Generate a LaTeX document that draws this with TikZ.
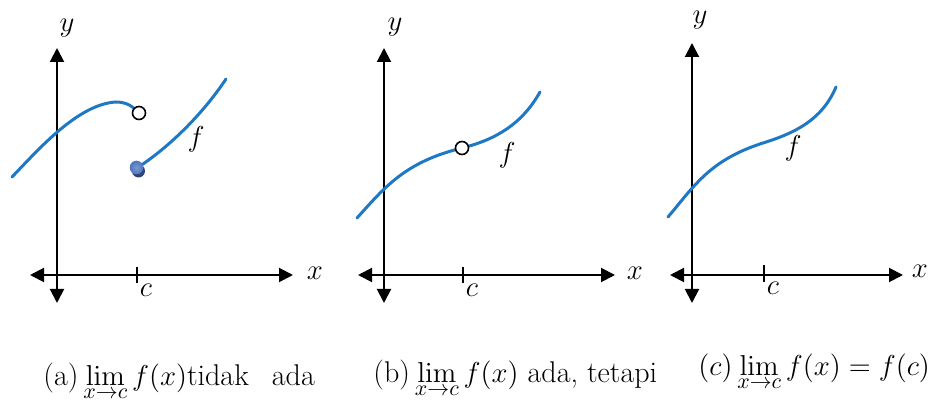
\documentclass[tikz,border=0pt]{standalone}
\usetikzlibrary{arrows.meta}
\definecolor{curveblue}{RGB}{30,120,196}
\definecolor{dotblue}{RGB}{80,118,190}
\definecolor{dotdark}{RGB}{45,68,120}
\newcommand{\limxc}{\displaystyle\lim_{x\to c}}
\begin{document}
\begin{tikzpicture}[x=0.5pt,y=-0.5pt,
  axis/.style={line width=1pt,{Triangle[length=7pt,width=7pt]}-{Triangle[length=7pt,width=7pt]}},
  tickmark/.style={line width=1pt},
  curve/.style={curveblue,line width=1.5pt,line cap=round},
  lbl/.style={font=\fontsize{15.5}{18}\selectfont,inner sep=0pt},
  captext/.style={font=\fontsize{15}{18}\selectfont,inner sep=0pt,anchor=base west},
  opendot/.style={circle,draw=black,line width=0.8pt,fill=white,minimum size=6.5pt,inner sep=0pt},
]
\useasboundingbox (0,0) rectangle (943,405);

% ---------- panel (a) ----------
\draw[axis] (57,303) -- (57,48);
\draw[axis] (30,275) -- (293,275);
\draw[tickmark] (137,267) -- (137,283);
\node[lbl] (ya) at (67,28) {$y$};
\node[lbl] (xa) at (315,273) {$x$};
\node[lbl] (ca) at (146,290) {$c$};
\draw[curve] (12,177) .. controls (38,150) and (78,104) .. (116,102) .. controls (127,102) and (134,107) .. (138,113);
\draw[curve] (137,168) .. controls (165,150) and (200,118) .. (226,79);
\node[opendot] (oa) at (139,113) {};
\fill[dotdark] (138.5,171) circle (6.5);
\shade[inner color=dotblue!75!white,outer color=dotblue] (136.5,167.5) circle (6.8);
\node[lbl] (fa) at (196,139) {$f$};

% ---------- panel (b) ----------
\draw[axis] (384,303) -- (384,48);
\draw[axis] (358,275) -- (615,275);
\draw[tickmark] (463,267) -- (463,283);
\node[lbl] (yb) at (395,27) {$y$};
\node[lbl] (xb) at (635,273) {$x$};
\node[lbl] (cb) at (472,290) {$c$};
\draw[curve] (357,218) .. controls (385,187) and (405,162) .. (462,148) .. controls (496,139.5) and (522,124) .. (540,92);
\node[opendot] (ob) at (462,148) {};
\node[lbl] (fb) at (507,155) {$f$};

% ---------- panel (c) ----------
\draw[axis] (692,303) -- (692,43);
\draw[axis] (670,275) -- (903,275);
\draw[tickmark] (764,265) -- (764,282);
\node[lbl] (yc) at (700,20) {$y$};
\node[lbl] (xc) at (920,271) {$x$};
\node[lbl] (cc) at (773,288) {$c$};
\draw[curve] (668,217) .. controls (695,185) and (710,160) .. (763,143) .. controls (795,133) and (822,120) .. (836,87);
\node[lbl] (fc) at (793,148) {$f$};

% ---------- captions ----------
\node[captext] (capa) at (43,386) {(a)\,$\limxc f(x)$tidak\ \ \,ada};
\node[captext] (capb) at (373,383) {(b)\,$\limxc f(x)$ ada, tetapi};
\node[captext] (capc) at (698,376) {$(c)\limxc f(x) = f(c)$};
\end{tikzpicture}
\end{document}
